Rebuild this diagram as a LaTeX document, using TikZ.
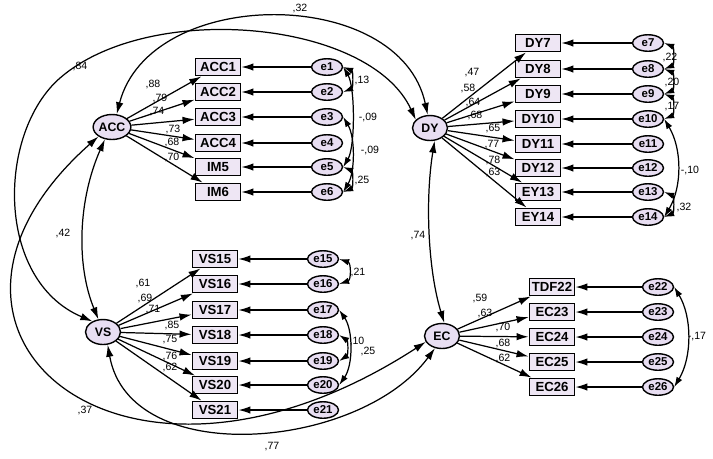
\documentclass[tikz,border=0pt]{standalone}
\usepackage{fontspec}
\setmainfont{Liberation Sans}
\usepackage{tikz}
\usetikzlibrary{arrows.meta,shapes.geometric}
\definecolor{boxfill}{HTML}{EEE6F4}
\definecolor{ovalfill}{HTML}{E8DEF2}

\begin{document}
\begin{tikzpicture}[x=0.02cm,y=-0.02cm,line width=0.7pt,
    >={Latex[length=2.4mm,width=1.5mm]}]
      \tikzstyle{lv} =[ellipse,draw,thick,fill=ovalfill,minimum width=7mm,minimum height=5mm,
                       inner sep=0pt,font=\fontsize{7}{8}\selectfont\bfseries];
      \tikzstyle{ob} =[rectangle,draw,line width=1.1pt,fill=boxfill,minimum width=9mm,minimum height=3.4mm,
                       inner sep=0pt,font=\fontsize{7.5}{8}\selectfont\bfseries];
      \tikzstyle{er} =[ellipse,draw,thick,fill=ovalfill,minimum width=6.2mm,minimum height=3.3mm,
                       inner sep=0pt,font=\fontsize{6.5}{7}\selectfont\bfseries];
      \tikzstyle{lb} =[inner sep=0pt,font=\fontsize{6}{7}\selectfont];
      \tikzstyle{cov}=[{Latex[length=2mm,width=1.3mm]}-{Latex[length=2mm,width=1.3mm]}];
      \useasboundingbox (0,0) rectangle (713,458);
      % latent variables
      \node[lv] (acc) at (112,127) {ACC};
      \node[lv] (dy)  at (430,128) {DY};
      \node[lv] (vs)  at (103,332) {VS};
      \node[lv] (ec)  at (442,336) {EC};
      % ACC block
      \node[ob] (acc1) at (218,67)  {ACC1};  \node[er] (e1) at (327,67)  {e1};
      \node[ob] (acc2) at (218,92)  {ACC2};  \node[er] (e2) at (327,92)  {e2};
      \node[ob] (acc3) at (218,117) {ACC3};  \node[er] (e3) at (327,117) {e3};
      \node[ob] (acc4) at (218,143) {ACC4};  \node[er] (e4) at (327,143) {e4};
      \node[ob] (im5)  at (218,167) {IM5};   \node[er] (e5) at (327,167) {e5};
      \node[ob] (im6)  at (218,192) {IM6};   \node[er] (e6) at (327,192) {e6};
      % DY block
      \node[ob] (dy7)  at (538,43)  {DY7};   \node[er] (e7)  at (648,43)  {e7};
      \node[ob] (dy8)  at (538,69)  {DY8};   \node[er] (e8)  at (648,69)  {e8};
      \node[ob] (dy9)  at (538,94)  {DY9};   \node[er] (e9)  at (648,94)  {e9};
      \node[ob] (dy10) at (538,119) {DY10};  \node[er] (e10) at (648,119) {e10};
      \node[ob] (dy11) at (538,144) {DY11};  \node[er] (e11) at (648,144) {e11};
      \node[ob] (dy12) at (538,168) {DY12};  \node[er] (e12) at (648,168) {e12};
      \node[ob] (ey13) at (538,192) {EY13};  \node[er] (e13) at (648,192) {e13};
      \node[ob] (ey14) at (538,217) {EY14};  \node[er] (e14) at (648,217) {e14};
      % VS block
      \node[ob] (vs15) at (215,259) {VS15};  \node[er] (e15) at (323,259) {e15};
      \node[ob] (vs16) at (215,284) {VS16};  \node[er] (e16) at (323,284) {e16};
      \node[ob] (vs17) at (215,310) {VS17};  \node[er] (e17) at (323,310) {e17};
      \node[ob] (vs18) at (215,335) {VS18};  \node[er] (e18) at (323,335) {e18};
      \node[ob] (vs19) at (215,361) {VS19};  \node[er] (e19) at (323,361) {e19};
      \node[ob] (vs20) at (215,385) {VS20};  \node[er] (e20) at (323,385) {e20};
      \node[ob] (vs21) at (215,410) {VS21};  \node[er] (e21) at (323,410) {e21};
      % EC block
      \node[ob] (tdf22) at (552,287) {TDF22}; \node[er] (e22) at (658,287) {e22};
      \node[ob] (ec23)  at (552,312) {EC23};  \node[er] (e23) at (658,312) {e23};
      \node[ob] (ec24)  at (552,337) {EC24};  \node[er] (e24) at (658,337) {e24};
      \node[ob] (ec25)  at (552,362) {EC25};  \node[er] (e25) at (658,362) {e25};
      \node[ob] (ec26)  at (552,387) {EC26};  \node[er] (e26) at (658,387) {e26};
      % loadings
      \draw[->] (acc) -- (acc1);  \node[lb] (l1) at (153,84)  {,88};
      \draw[->] (acc) -- (acc2);  \node[lb] (l2) at (160,98)  {,79};
      \draw[->] (acc) -- (acc3);  \node[lb] (l3) at (157,112) {,74};
      \draw[->] (acc) -- (acc4);  \node[lb] (l4) at (173,129) {,73};
      \draw[->] (acc) -- (im5);   \node[lb] (l5) at (172,142) {,68};
      \draw[->] (acc) -- (im6);   \node[lb] (l6) at (172,157) {,70};
      \draw[->] (dy) -- (dy7);    \node[lb] (l7)  at (472,73)  {,47};
      \draw[->] (dy) -- (dy8);    \node[lb] (l8)  at (468,88)  {,58};
      \draw[->] (dy) -- (dy9);    \node[lb] (l9)  at (473,102) {,64};
      \draw[->] (dy) -- (dy10);   \node[lb] (l10) at (475,115) {,68};
      \draw[->] (dy) -- (dy11);   \node[lb] (l11) at (493,128) {,65};
      \draw[->] (dy) -- (dy12);   \node[lb] (l12) at (492,145) {,77};
      \draw[->] (dy) -- (ey13);   \node[lb] (l13) at (493,160) {,78};
      \draw[->] (dy) -- (ey14);   \node[lb] (l14) at (493,172) {,63};
      \draw[->] (vs) -- (vs15);   \node[lb] (l15) at (143,283) {,61};
      \draw[->] (vs) -- (vs16);   \node[lb] (l16) at (145,298) {,69};
      \draw[->] (vs) -- (vs17);   \node[lb] (l17) at (153,310) {,71};
      \draw[->] (vs) -- (vs18);   \node[lb] (l18) at (172,325) {,85};
      \draw[->] (vs) -- (vs19);   \node[lb] (l19) at (170,340) {,75};
      \draw[->] (vs) -- (vs20);   \node[lb] (l20) at (170,356) {,76};
      \draw[->] (vs) -- (vs21);   \node[lb] (l21) at (170,367) {,62};
      \draw[->] (ec) -- (tdf22);  \node[lb] (l22) at (480,298) {,59};
      \draw[->] (ec) -- (ec23);   \node[lb] (l23) at (485,313) {,63};
      \draw[->] (ec) -- (ec24);   \node[lb] (l24) at (503,327) {,70};
      \draw[->] (ec) -- (ec25);   \node[lb] (l25) at (503,343) {,68};
      \draw[->] (ec) -- (ec26);   \node[lb] (l26) at (503,358) {,62};
      % errors
      \draw[->] (e1) -- (acc1);   \draw[->] (e2) -- (acc2);   \draw[->] (e3) -- (acc3);
      \draw[->] (e4) -- (acc4);   \draw[->] (e5) -- (im5);    \draw[->] (e6) -- (im6);
      \draw[->] (e7) -- (dy7);    \draw[->] (e8) -- (dy8);    \draw[->] (e9) -- (dy9);
      \draw[->] (e10) -- (dy10);  \draw[->] (e11) -- (dy11);  \draw[->] (e12) -- (dy12);
      \draw[->] (e13) -- (ey13);  \draw[->] (e14) -- (ey14);
      \draw[->] (e15) -- (vs15);  \draw[->] (e16) -- (vs16);  \draw[->] (e17) -- (vs17);
      \draw[->] (e18) -- (vs18);  \draw[->] (e19) -- (vs19);  \draw[->] (e20) -- (vs20);
      \draw[->] (e21) -- (vs21);
      \draw[->] (e22) -- (tdf22); \draw[->] (e23) -- (ec23);  \draw[->] (e24) -- (ec24);
      \draw[->] (e25) -- (ec25);  \draw[->] (e26) -- (ec26);
      % residual covariances
      \draw[cov] (e1.east) .. controls +(10,4) and +(10,-4) .. (e2.east);
      \draw[cov] (e1.east) .. controls +(12,20) and +(12,-20) .. (e5.east);
      \draw[cov] (e3.east) .. controls +(12,20) and +(12,-20) .. (e6.east);
      \draw[cov] (e5.east) .. controls +(10,4) and +(10,-4) .. (e6.east);
      \node[lb] (c1) at (362,80)  {,13};
      \node[lb] (c2) at (368,117) {-,09};
      \node[lb] (c3) at (370,150) {-,09};
      \node[lb] (c4) at (362,180) {,25};
      \draw[cov] (e7.east) .. controls +(10,4) and +(10,-4) .. (e8.east);
      \draw[cov] (e8.east) .. controls +(10,4) and +(10,-4) .. (e9.east);
      \draw[cov] (e9.east) .. controls +(10,4) and +(10,-4) .. (e10.east);
      \draw[cov] (e10.east) .. controls +(18,30) and +(18,-30) .. (e14.east);
      \draw[cov] (e13.east) .. controls +(10,4) and +(10,-4) .. (e14.east);
      \node[lb] (c5) at (670,57)  {,22};
      \node[lb] (c6) at (672,82)  {,20};
      \node[lb] (c7) at (672,107) {,17};
      \node[lb] (c8) at (690,170) {-,10};
      \node[lb] (c9) at (684,207) {,32};
      \draw[cov] (e15.east) .. controls +(12,4) and +(12,-4) .. (e16.east);
      \draw[cov] (e17.east) .. controls +(14,20) and +(14,-20) .. (e20.east);
      \draw[cov] (e18.east) .. controls +(9,6) and +(9,-6) .. (e19.east);
      \node[lb] (c10) at (358,272) {,21};
      \node[lb] (c11) at (357,341) {,10};
      \node[lb] (c12) at (368,351) {,25};
      \draw[cov] (e22.east) .. controls +(18,30) and +(18,-30) .. (e26.east);
      \node[lb] (c13) at (697,337) {-,17};
      % factor covariances
      \draw[<->] (acc.70) .. controls (150,-15) and (400,-15) .. (dy.100);
      \draw[<->] (dy.150) .. controls (370,20) and (150,0) .. (60,78)
                 .. controls (-3,133) and (-5,280) .. (vs.135);
      \draw[<->] (acc.240) .. controls (78,200) and (76,265) .. (vs.110);
      \draw[<->] (acc.215) .. controls (-120,330) and (120,540) .. (ec.200);
      \draw[<->] (vs.290) .. controls (130,470) and (360,450) .. (ec.240);
      \draw[<->] (dy.290) .. controls (425,200) and (428,270) .. (ec.80);
      \node[lb] (f1) at (300,8)   {,32};
      \node[lb] (f2) at (80,66)   {,84};
      \node[lb] (f3) at (63,233)  {,42};
      \node[lb] (f4) at (85,410)  {,37};
      \node[lb] (f5) at (272,447) {,77};
      \node[lb] (f6) at (418,236) {,74};
\end{tikzpicture}
\end{document}
